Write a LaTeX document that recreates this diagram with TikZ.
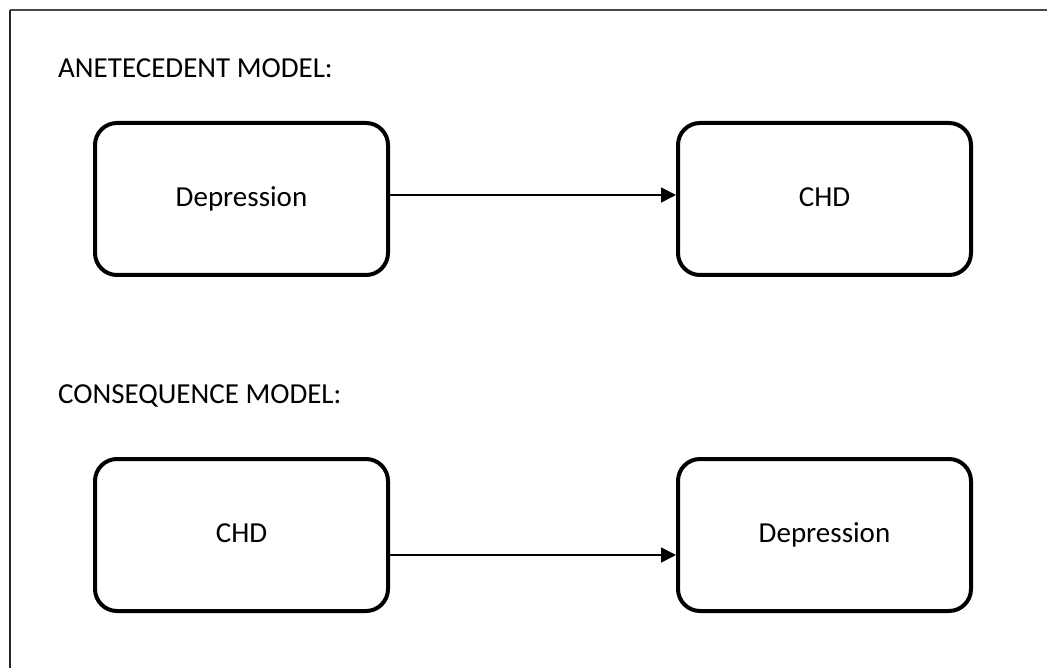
\documentclass[tikz,border=0pt]{standalone}
\usepackage{fontspec}
\setmainfont{Carlito}
\usetikzlibrary{arrows.meta,positioning}

\begin{document}
\begin{tikzpicture}[
  x=1pt, y=-1pt,
  model/.style={rectangle, draw, line width=4pt, rounded corners=22pt,
                minimum width=293pt, minimum height=152pt,
                text height=19pt, text depth=4pt,
                font=\fontsize{29}{34}\selectfont},
  heading/.style={anchor=base west, inner sep=0pt,
                  font=\fontsize{29}{34}\selectfont},
  arr/.style={-{Triangle[length=15pt, width=15pt]}, line width=1.7pt}
]
\useasboundingbox (0,0) rectangle (1047,668);
% frame, cut at the right and at the bottom
\coordinate (frameTL) at (10,10);
\coordinate (frameTR) at (1047,10);
\coordinate (frameBL) at (10,668);
\draw[line width=2pt, black!72] (frameTL) -- (frameTR);
\draw[line width=1.3pt, black!85] (frameTL) -- (frameBL);

% antecedent model
\node[heading] (antHead) at (58,78) {ANETECEDENT MODEL:};
\node[model] (antDep) at (241.5,199) {Depression};
\node[model] (antCHD) at (824.5,199) {CHD};
\draw[arr] ([yshift=4pt]antDep.east) -- ([yshift=4pt]antCHD.west);

% consequence model
\node[heading] (conHead) at (58,403) {CONSEQUENCE MODEL:};
\node[model] (conCHD) at (241.5,535) {CHD};
\node[model] (conDep) at (824.5,535) {Depression};
\draw[arr] ([yshift=-20pt]conCHD.east) -- ([yshift=-20pt]conDep.west);
\end{tikzpicture}
\end{document}
